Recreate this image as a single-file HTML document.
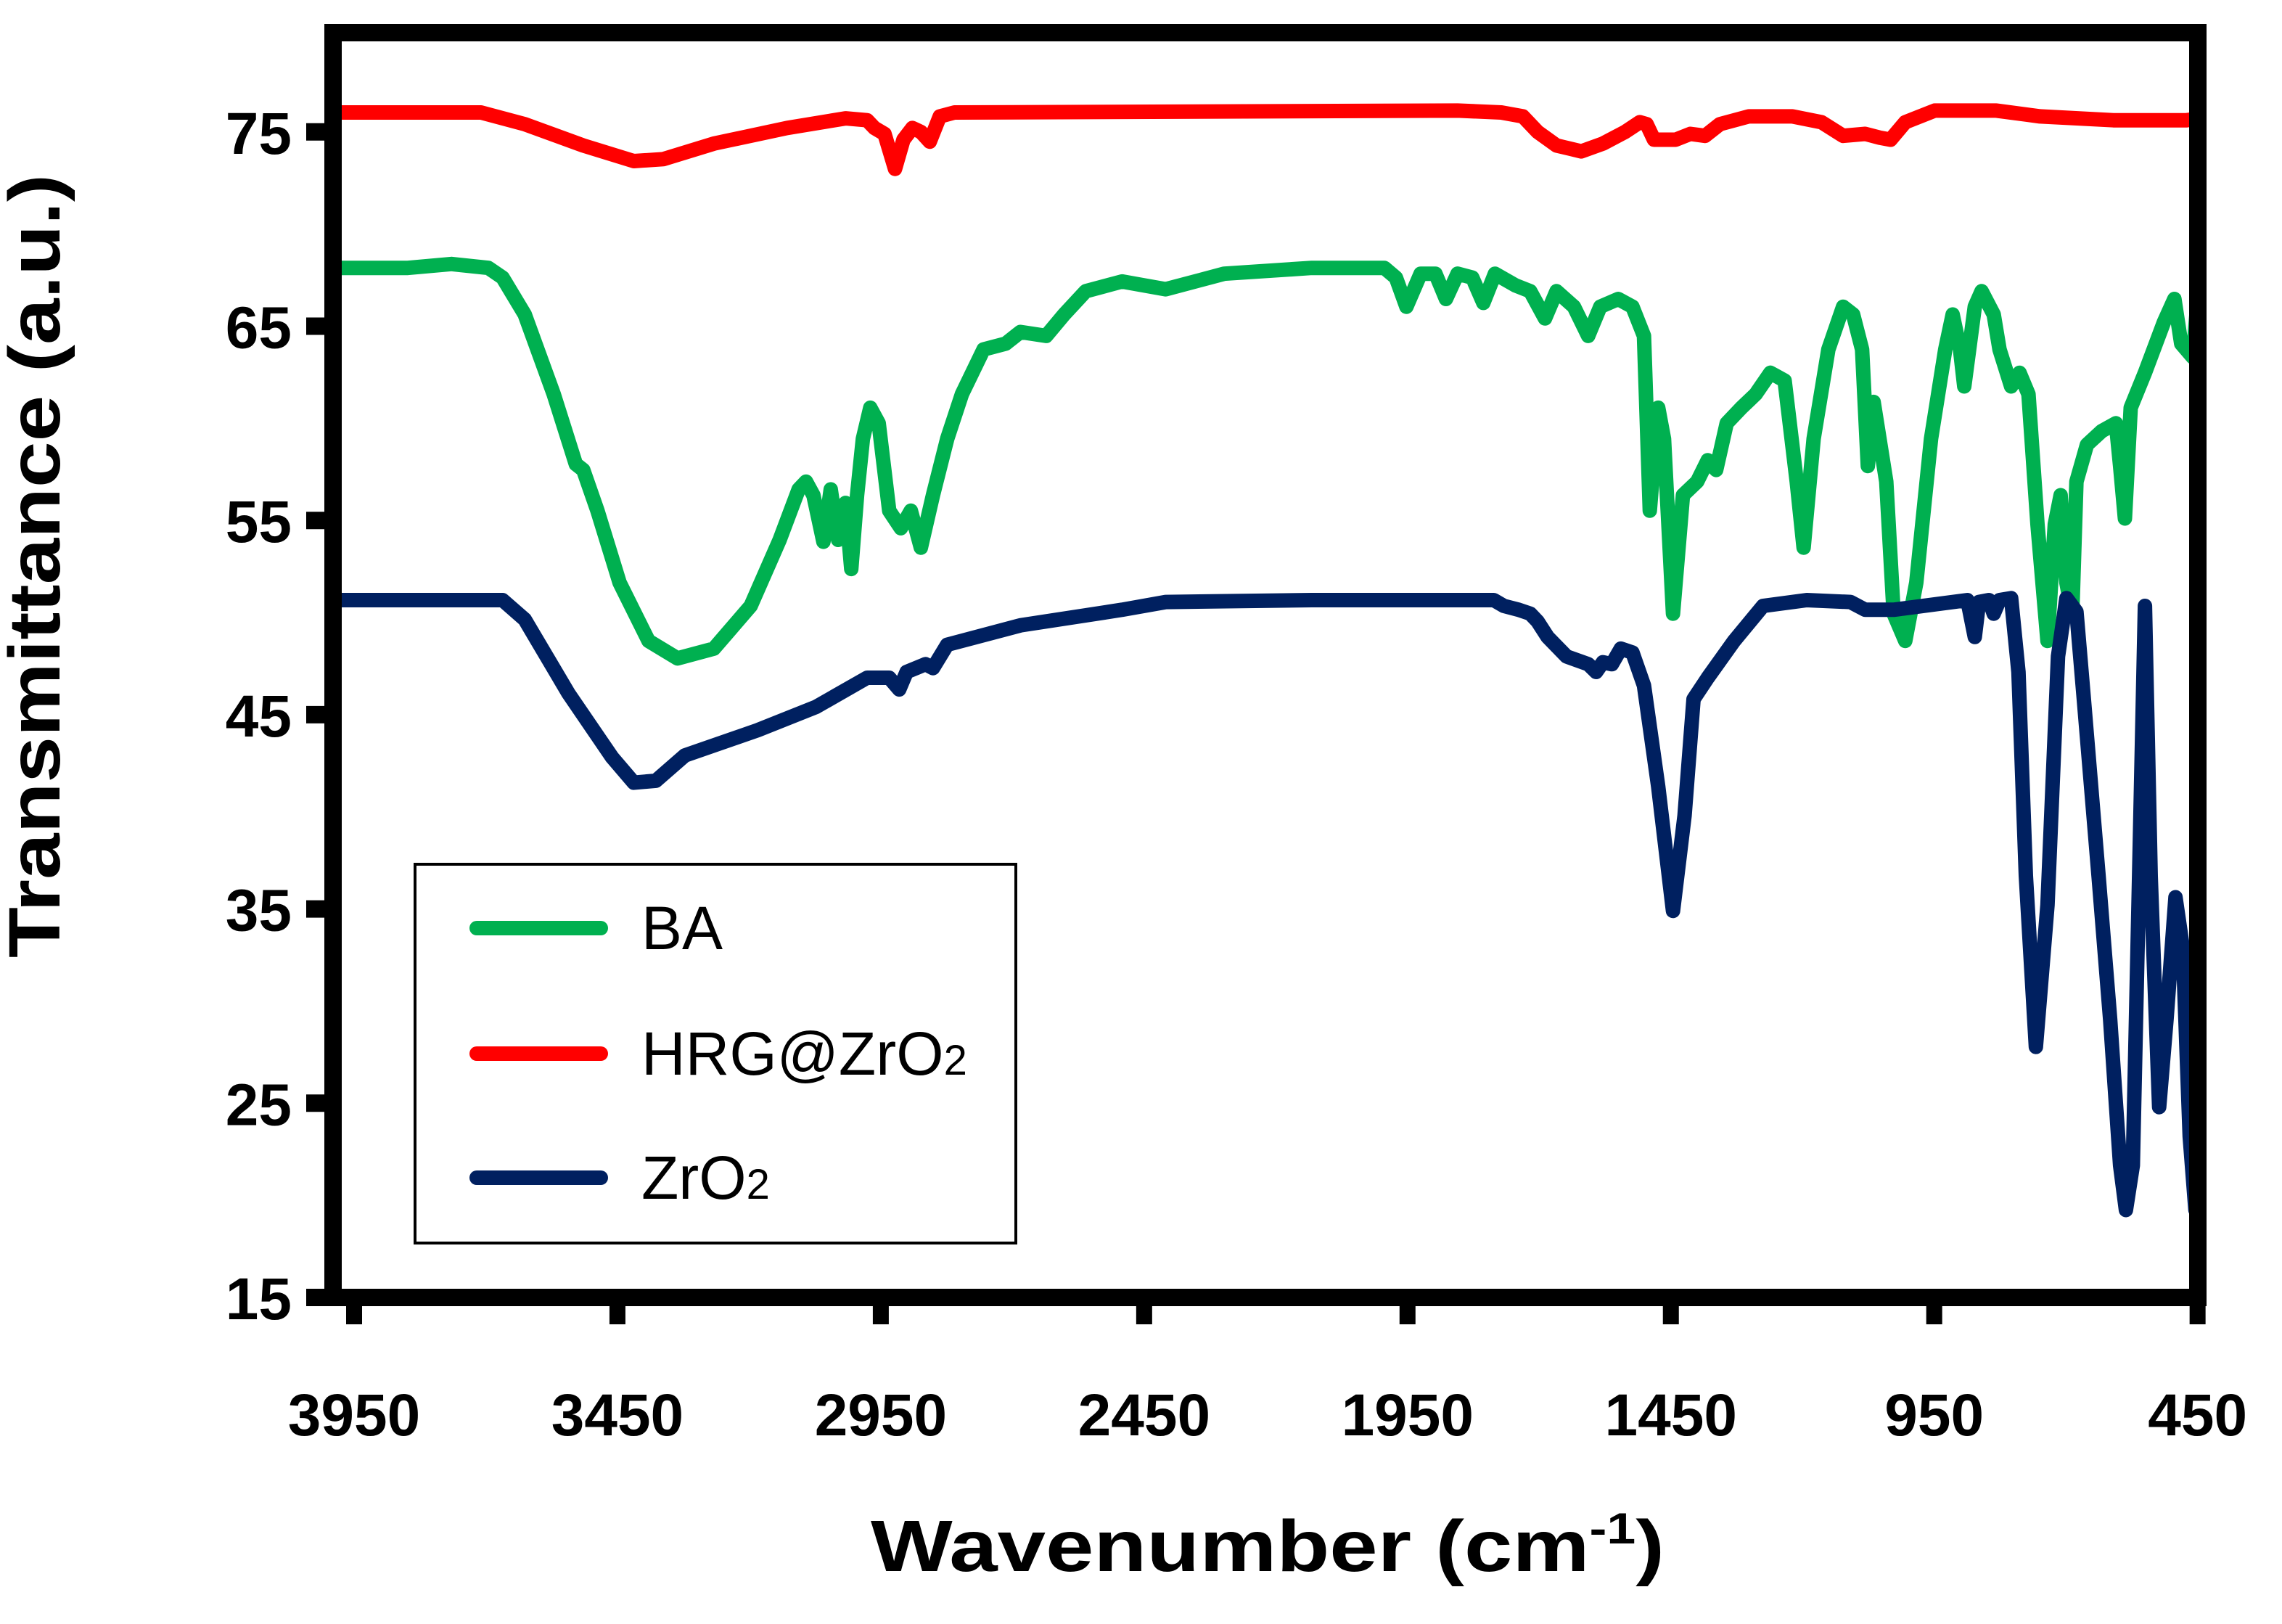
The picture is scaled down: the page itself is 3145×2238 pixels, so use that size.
<!DOCTYPE html>
<html><head><meta charset="utf-8"><style>
html,body{margin:0;padding:0;background:#fff;}
svg{display:block;font-family:"Liberation Sans",sans-serif;}
</style></head><body>
<svg id="chart" width="3145" height="2238" viewBox="0 0 3145 2238" xmlns="http://www.w3.org/2000/svg">
<defs><clipPath id="plotclip"><rect x="470" y="57" width="2548" height="1720"/></clipPath></defs>
<g id="series" clip-path="url(#plotclip)"></g>
<rect x="459" y="45" width="2570" height="1743" fill="none" stroke="#000" stroke-width="24"/>
<g id="axes"></g>
<text transform="translate(82,780) rotate(-90)" text-anchor="middle" font-size="100" font-weight="bold" textLength="1080" lengthAdjust="spacingAndGlyphs">Transmittance (a.u.)</text>
<text x="1747" y="2165" text-anchor="middle" font-size="100" font-weight="bold" textLength="1094" lengthAdjust="spacingAndGlyphs">Wavenumber (cm<tspan font-size="60" dy="-38">-1</tspan><tspan dy="38">)</tspan></text>
<g>
<rect x="572" y="1191" width="828" height="522" fill="#fff" stroke="#000" stroke-width="4"/>
<g>
<line x1="657" y1="1279" x2="828" y2="1279" stroke="#00b050" stroke-width="20" stroke-linecap="round"/>
<text x="884" y="1308" font-size="84">BA</text></g>
<g>
<line x1="657" y1="1452" x2="828" y2="1452" stroke="#ff0000" stroke-width="20" stroke-linecap="round"/>
<text x="884" y="1481" font-size="84">HRG@ZrO<tspan font-size="58">2</tspan></text></g>
<g>
<line x1="657" y1="1623" x2="828" y2="1623" stroke="#002060" stroke-width="20" stroke-linecap="round"/>
<text x="884" y="1652" font-size="84">ZrO<tspan font-size="58">2</tspan></text></g>
</g>
</svg>
<script>
const xTicks = [3950, 3450, 2950, 2450, 1950, 1450, 950, 450];
const yTicks = [15, 25, 35, 45, 55, 65, 75];
const baW = [3986,3848,3765,3695,3668,3626,3571,3529,3515,3488,3446,3391,3336,3267,3197,3142,3106,3092,3078,3059,3045,3031,3017,3006,2995,2984,2970,2954,2934,2912,2893,2874,2851,2824,2796,2755,2713,2685,2636,2602,2561,2492,2409,2298,2132,1994,1972,1952,1925,1897,1877,1855,1827,1806,1784,1745,1717,1689,1667,1634,1607,1584,1550,1523,1501,1490,1474,1463,1446,1427,1400,1380,1364,1344,1316,1289,1261,1234,1211,1198,1179,1151,1123,1104,1087,1076,1065,1041,1027,1005,984,956,929,915,901,893,873,860,837,826,804,788,771,754,735,721,710,699,688,680,660,632,605,597,588,577,550,514,494,481,459,445];
const baT = [68.0,68.0,68.2,68.0,67.5,65.6,61.5,57.9,57.6,55.5,51.8,48.8,47.9,48.4,50.6,54.0,56.6,57.0,56.3,53.9,56.6,54.0,55.9,52.5,56.3,59.2,60.8,60.0,55.5,54.6,55.5,53.6,56.3,59.2,61.5,63.8,64.1,64.7,64.5,65.6,66.8,67.3,66.9,67.7,68.0,68.0,67.5,66.0,67.7,67.7,66.4,67.7,67.5,66.2,67.7,67.1,66.8,65.4,66.8,66.0,64.5,66.0,66.4,66.0,64.5,55.5,60.8,59.2,50.2,56.3,57.0,58.1,57.6,60.0,60.8,61.5,62.6,62.2,57.0,53.6,59.2,63.8,66.0,65.6,63.8,57.8,61.1,57.0,50.2,48.8,51.8,59.2,63.8,65.6,63.8,61.9,66.0,66.8,65.6,63.8,61.9,62.6,61.5,54.8,48.8,54.8,56.3,51.8,50.2,57.0,58.9,59.6,60.0,57.8,55.1,60.8,62.6,65.2,66.4,64.1,63.4,67.9];
const hrgW = [3986,3709,3626,3515,3419,3363,3267,3128,3017,2976,2962,2943,2923,2907,2890,2874,2857,2838,2810,1855,1772,1731,1703,1667,1620,1579,1537,1509,1496,1482,1441,1413,1385,1357,1302,1219,1164,1123,1081,1053,1033,1005,949,832,749,610,471,445];
const hrgT = [76.0,76.0,75.4,74.3,73.5,73.6,74.4,75.2,75.7,75.6,75.2,74.9,73.1,74.6,75.2,75.0,74.5,75.8,76.0,76.1,76.0,75.8,75.0,74.3,74.0,74.4,75.0,75.5,75.4,74.6,74.6,74.9,74.8,75.4,75.8,75.8,75.5,74.8,74.9,74.7,74.6,75.5,76.1,76.1,75.8,75.6,75.6,75.7];
const zrW = [3986,3668,3626,3543,3460,3419,3377,3322,3184,3073,2976,2934,2915,2901,2865,2851,2824,2685,2492,2409,2132,1786,1767,1739,1717,1703,1684,1648,1607,1592,1579,1562,1545,1523,1501,1474,1446,1424,1407,1380,1330,1275,1192,1109,1081,1027,887,873,865,846,837,826,804,790,776,757,735,715,699,680,666,638,616,597,586,573,561,550,539,523,509,492,478,465,454];
const zrT = [50.9,50.9,49.9,46.1,42.8,41.5,41.6,42.9,44.2,45.4,46.9,46.9,46.3,47.2,47.6,47.4,48.6,49.6,50.4,50.8,50.9,50.9,50.6,50.4,50.2,49.8,49.0,48.0,47.6,47.2,47.7,47.6,48.4,48.2,46.5,41.3,34.9,39.8,45.8,46.9,48.8,50.6,50.9,50.8,50.4,50.4,50.9,49.0,50.8,50.9,50.2,50.9,51.0,47.2,36.7,27.9,35.2,48.0,51.0,50.3,45.8,36.7,29.3,21.8,19.5,21.8,36.7,50.6,36.7,24.8,29.3,35.6,33.0,23.3,19.5];

const NS = 'http://www.w3.org/2000/svg';
function xScale(w){ return 488 + (3950 - w) * 0.7259; }
function yScale(v){ return 1788 - (v - 15) * 26.77; }

const seriesG = document.getElementById('series');
function drawSeries(ws, ts, color, name){
  const p = document.createElementNS(NS, 'polyline');
  p.setAttribute('points', ws.map((w,i)=>xScale(w).toFixed(1)+','+yScale(ts[i]).toFixed(1)).join(' '));
  p.setAttribute('fill','none');
  p.setAttribute('stroke',color);
  p.setAttribute('stroke-width','20');
  p.setAttribute('stroke-linejoin','round');
  p.setAttribute('stroke-linecap','round');
  
  
  seriesG.appendChild(p);
}
drawSeries(hrgW, hrgT, '#ff0000', 'series-hrg-zro2');
drawSeries(baW, baT, '#00b050', 'series-ba');
drawSeries(zrW, zrT, '#002060', 'series-zro2');

const axesG = document.getElementById('axes');
xTicks.forEach(t=>{
  const x = xScale(t);
  const l = document.createElementNS(NS,'line');
  l.setAttribute('x1',x); l.setAttribute('x2',x); l.setAttribute('y1',1788); l.setAttribute('y2',1825);
  l.setAttribute('stroke','#000'); l.setAttribute('stroke-width','22');
  
  
  axesG.appendChild(l);
  const tx = document.createElementNS(NS,'text');
  tx.setAttribute('x',x); tx.setAttribute('y',1978);
  tx.setAttribute('text-anchor','middle'); tx.setAttribute('font-size','82'); tx.setAttribute('font-weight','bold');
  tx.textContent = t;
  
  
  axesG.appendChild(tx);
});
yTicks.forEach(t=>{
  const y = yScale(t);
  const l = document.createElementNS(NS,'line');
  l.setAttribute('x1',422); l.setAttribute('x2',459); l.setAttribute('y1',y); l.setAttribute('y2',y);
  l.setAttribute('stroke','#000'); l.setAttribute('stroke-width','24');
  
  
  axesG.appendChild(l);
  const tx = document.createElementNS(NS,'text');
  tx.setAttribute('x',402); tx.setAttribute('y',y+30);
  tx.setAttribute('text-anchor','end'); tx.setAttribute('font-size','82'); tx.setAttribute('font-weight','bold');
  tx.textContent = t;
  
  
  axesG.appendChild(tx);
});
</script>
</body></html>
